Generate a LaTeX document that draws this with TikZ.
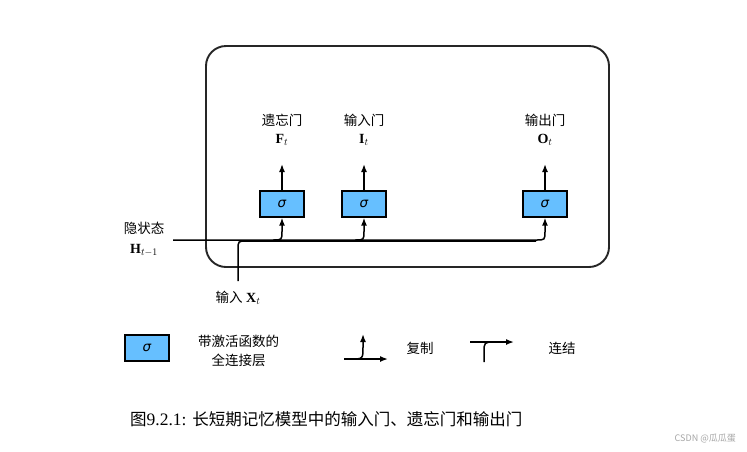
\documentclass[tikz,border=0pt]{standalone}
\usepackage{fontspec}
\newfontfamily\cjk{Noto Sans CJK SC}
\newfontfamily\sigfont{DejaVu Sans}
\setmainfont{Liberation Serif}
\usetikzlibrary{arrows.meta}
\definecolor{boxblue}{HTML}{66BFFF}
\tikzset{
  fcbox/.style={draw=black,line width=1.3pt,fill=boxblue,minimum width=44pt,minimum height=26pt,inner sep=0pt,
    font=\sigfont\itshape\fontsize{13.5}{13.5}\selectfont},
  lbl/.style={font=\cjk\fontsize{13.5}{15}\selectfont,inner sep=0pt},
  mlbl/.style={font=\fontsize{14}{15}\selectfont,inner sep=0pt},
  conn/.style={line width=1.5pt,draw=black},
  arr/.style={conn,-{Latex[length=8pt,width=6pt]}},
  frame/.style={draw=black!85,line width=1.9pt,rounded corners=20pt}
}
\begin{document}
\begin{tikzpicture}[x=1pt,y=-1pt]
\useasboundingbox[fill=white] (0,0) rectangle (747,451);
% outer frame
\node[frame,minimum width=403pt,minimum height=221pt,inner sep=0pt] (frm) at (407.5,156.5) {};
% gates
\node[fcbox] (bf) at (282,204) {σ};
\node[fcbox] (bi) at (364,204) {σ};
\node[fcbox] (bo) at (545,204) {σ};
\coordinate (tf) at (282,164);
\coordinate (ti) at (364,164);
\coordinate (to) at (545,164);
\draw[arr] (bf.north) -- (tf);
\draw[arr] (bi.north) -- (ti);
\draw[arr] (bo.north) -- (to);
\node[lbl] (lf) at (282,120) {遗忘门};
\node[lbl] (li) at (364,120) {输入门};
\node[lbl] (lo) at (545,120) {输出门};
\node[mlbl] (mf) at (282,140) {$\mathbf{F}_t$};
\node[mlbl] (mi) at (364,140) {$\mathbf{I}_t$};
\node[mlbl] (mo) at (545,140) {$\mathbf{O}_t$};
% hidden state
\node[lbl] (lh) at (144,228) {隐状态};
\node[mlbl] (mh) at (144,250) {$\mathbf{H}_{t-1}$};
\coordinate (hs) at (173,240);
\draw[arr] (hs) -- (536,240) .. controls (545,240) .. (545,231) -- (bo.south);
\draw[arr] (273,240) .. controls (282,240) .. (282,231) -- (bf.south);
\draw[arr] (355,240) .. controls (364,240) .. (364,231) -- (bi.south);
% input
\coordinate (xs) at (238,281);
\draw[conn] (xs) -- (238,250) .. controls (238,241) .. (247,241) -- (536,241);
\node[mlbl] (lx) at (238,298) {{\cjk\fontsize{13.5}{15}\selectfont 输入} $\mathbf{X}_t$};
% legend
\node[fcbox] (lg) at (147,348) {σ};
\node[lbl,align=center] (lgt) at (238.5,351) {带激活函数的\\[4pt]全连接层};
\coordinate (ca) at (344,359);
\coordinate (cb) at (388,359);
\coordinate (cc) at (363,334);
\draw[arr] (ca) -- (cb);
\draw[arr] (351,359) .. controls (363,359) .. (363,347) -- (cc);
\node[lbl] (lcp) at (420,348) {复制};
\coordinate (ka) at (470,342);
\coordinate (kb) at (514,342);
\coordinate (kc) at (484,362);
\draw[arr] (ka) -- (kb);
\draw[conn] (kc) -- (484,353) .. controls (484,342) .. (495,342);
\node[lbl] (lcc) at (562,348) {连结};
% caption
\node[inner sep=0pt,anchor=west] (cap) at (130,419) {{\cjk\fontsize{16.5}{18}\selectfont 图}{\fontsize{17.5}{18}\selectfont 9.2.1: }{\cjk\fontsize{16.5}{18}\selectfont 长短期记忆模型中的输入门、遗忘门和输出门}};
\node[inner sep=0pt,anchor=east,text=black!35] (wm) at (736,439) {\fontsize{9}{10}\selectfont\cjk CSDN @瓜瓜蛋};
\end{tikzpicture}
\end{document}
